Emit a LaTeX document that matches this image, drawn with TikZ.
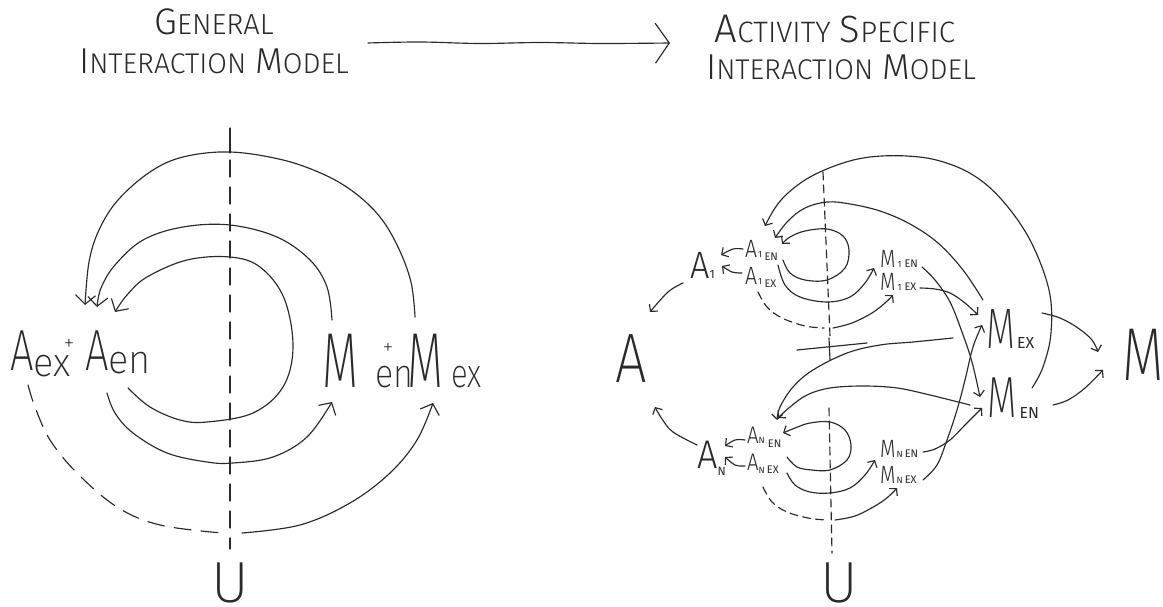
\documentclass[tikz,border=0pt]{standalone}
\usepackage{fontspec}
\usepackage{graphicx}
\newfontfamily\hand{Fira Sans ExtraLight}
\newfontfamily\handL{Fira Sans Light}
\newfontfamily\handB{Fira Sans}
\usetikzlibrary{arrows.meta}
\definecolor{ink}{HTML}{2A2A2A}
% size only / size plus horizontal squeeze for the hand-lettered labels
\newcommand\hsz[2]{{\fontsize{#1}{#1}\selectfont #2}}
\newcommand\nlet[3]{{\fontsize{#1}{#1}\selectfont\scalebox{#2}[1]{#3}}}
\newcommand\tsub[2]{{\handB\fontsize{#1}{#1}\selectfont #2}}
\tikzset{
  pen/.style={draw=ink, line width=1.15pt, line cap=round, line join=round},
  bigtip/.style={-{Straight Barb[length=9pt,width=20pt]}},
  smtip/.style={-{Straight Barb[length=5pt,width=11pt]}},
  lbl/.style={inner sep=0pt, anchor=base west, text=ink, font=\hand},
  slbl/.style={lbl, font=\handL},
  ttl/.style={inner sep=0pt, anchor=base, text=ink, font=\handL},
  longdash/.style={dash pattern=on 17pt off 10pt},
  shortdash/.style={dash pattern=on 8pt off 5pt},
  sm/.style={smooth, tension=0.6},
}
\begin{document}
\begin{tikzpicture}[x=1pt,y=1pt]
\fill[white] (0,0) rectangle (1163,-607);
\useasboundingbox (0,0) rectangle (1163,-607);

% ---------- titles ----------
\node[ttl] (gen) at (214,-35) {\hsz{37}{G}\hsz{29}{ENERAL}};
\node[ttl] (interL) at (214,-74) {\hsz{36}{I}\hsz{28.5}{NTERACTION}\hspace{9pt}\hsz{36}{M}\hsz{28.5}{ODEL}};
\node[ttl] (activity) at (835,-43) {\hsz{40}{A}\hsz{29.5}{CTIVITY}\hspace{9pt}\hsz{38}{S}\hsz{29.5}{PECIFIC}};
\node[ttl] (interR) at (841,-80) {\hsz{36}{I}\hsz{28.5}{NTERACTION}\hspace{9pt}\hsz{36}{M}\hsz{28.5}{ODEL}};
\coordinate (arrS) at (368,-43);
\coordinate (arrE) at (670,-43);
\draw[pen, -{Straight Barb[length=14pt,width=40pt]}] plot[sm] coordinates {(arrS) (420,-42) (480,-43.5) (540,-42.5) (600,-43.5) (arrE)};

% ---------- general model ----------
\draw[pen] (230,-128) -- (230,-153);
\draw[pen, longdash] (230,-160) -- (230,-549);
\node[lbl, anchor=base] (uL) at (230,-602) {\hsz{58}{U}};

\node[lbl] (aex) at (10,-370) {\nlet{58}{0.72}{A}\raisebox{-6pt}{\nlet{40}{0.95}{ex}}};
\node[lbl, anchor=center] (plusA) at (69,-345) {\hsz{22}{+}};
\node[lbl] (aen) at (85,-370) {\nlet{58}{0.72}{A}\raisebox{-3pt}{\nlet{40}{0.95}{en}}};
\node[lbl] (men) at (322,-387) {\nlet{78}{0.6}{M}\hspace{17pt}\nlet{40}{0.85}{en}};
\node[lbl, anchor=center] (plusM) at (388,-349) {\hsz{22}{+}};
\node[lbl] (mex) at (407,-387) {\nlet{78}{0.6}{M}\hspace{8pt}\nlet{40}{0.78}{ex}};

\coordinate (mexTop) at (415,-317);
\coordinate (menTop) at (332,-320);
\coordinate (aexHead) at (85,-305);
\coordinate (aenHead) at (97,-307);
\coordinate (aenLoopHead) at (115,-312);
\coordinate (aenLow) at (128,-388);
\coordinate (aenLow2) at (107,-393);
\coordinate (menLow) at (332,-402);
\coordinate (aexLow) at (28,-385);
\coordinate (mexLow) at (433,-403);

\draw[pen,bigtip] plot[sm] coordinates {(mexTop) (411,-282) (398,-247) (380,-217) (355,-193) (325,-175) (283,-160) (230,-152) (183,-157) (150,-172) (118,-200) (99,-230) (89,-262) (aexHead)};
\draw[pen,bigtip] plot[sm] coordinates {(menTop) (327,-287) (310,-260) (277,-237) (230,-225) (183,-227) (143,-240) (115,-265) (101,-288) (aenHead)};
\draw[pen,bigtip] plot[sm] coordinates {(aenLow) (150,-407) (180,-420) (207,-422) (253,-413) (283,-387) (293,-347) (284,-298) (260,-267) (230,-257) (187,-260) (147,-277) (127,-295) (aenLoopHead)};
\draw[pen,bigtip] plot[sm] coordinates {(aenLow2) (115,-413) (133,-433) (167,-453) (207,-462) (233,-463) (273,-457) (307,-437) (menLow)};
\draw[pen,longdash] plot[sm] coordinates {(aexLow) (35,-407) (50,-440) (77,-473) (117,-507) (160,-525) (222,-533)};
\draw[pen,bigtip] plot[sm] coordinates {(242,-533) (300,-525) (350,-503) (390,-473) (417,-440) (mexLow)};

% ---------- activity specific model ----------
\draw[pen, shortdash] (823,-172) -- (830,-336);
\draw[pen] (797,-350) -- (867,-343);
\draw[pen] (829,-338) -- (830,-360);
\draw[pen, shortdash] (829,-408) -- (832,-553);
\node[lbl, anchor=base] (uR) at (839,-602) {\hsz{58}{U}};

\node[lbl] (bigA) at (615,-382) {\nlet{70}{0.8}{A}};
\node[slbl] (aone) at (690,-278) {\nlet{38}{0.9}{A}\tsub{12}{1}};
\node[slbl] (aoneEn) at (745,-257) {\nlet{25}{0.85}{A}\hspace{1pt}\tsub{9}{1}\hspace{2.5pt}\raisebox{-3pt}{\tsub{11}{EN}}};
\node[slbl] (aoneEx) at (745,-284) {\nlet{25}{0.85}{A}\hspace{1pt}\tsub{9}{1}\hspace{2.5pt}\raisebox{-3pt}{\tsub{11}{EX}}};
\node[slbl] (moneEn) at (880,-267) {\nlet{25}{0.8}{M}\hspace{2pt}\tsub{9}{1}\hspace{3pt}\tsub{11}{EN}};
\node[slbl] (moneEx) at (880,-290) {\nlet{25}{0.8}{M}\hspace{2pt}\tsub{9}{1}\hspace{3pt}\tsub{11}{EX}};
\node[lbl] (mEx) at (986,-348) {\nlet{57}{0.66}{M}\hspace{2pt}\tsub{16}{EX}};
\node[lbl] (mEn) at (987,-417) {\nlet{58}{0.66}{M}\hspace{3pt}\raisebox{-1pt}{\tsub{16}{EN}}};
\node[lbl] (bigM) at (1122,-380) {\nlet{75}{0.72}{M}};
\node[slbl] (aN) at (697,-468) {\nlet{40}{0.9}{A}\raisebox{-7pt}{\tsub{12}{N}}};
\node[slbl] (aNen) at (747,-443) {\nlet{24}{0.85}{A}\tsub{9}{N}\hspace{3pt}\raisebox{-4pt}{\tsub{11}{EN}}};
\node[slbl] (aNex) at (747,-470) {\nlet{24}{0.85}{A}\raisebox{-3pt}{\tsub{9}{N}\hspace{2pt}\tsub{11}{EX}}};
\node[slbl] (mNen) at (880,-457) {\nlet{25}{0.8}{M}\hspace{1pt}\tsub{9}{N}\hspace{2pt}\tsub{11}{EN}};
\node[slbl] (mNex) at (880,-483) {\nlet{25}{0.8}{M}\hspace{1pt}\tsub{9}{N}\hspace{2pt}\tsub{11}{EX}};

% feeds into A
\draw[pen,smtip] plot[sm] coordinates {(683,-283) (668,-292) (650,-312)};
\draw[pen,smtip] plot[sm] coordinates {(697,-445) (673,-432) (662,-419) (655,-407)};
% sub-labels into A_1 and A_N
\draw[pen,smtip] plot[sm] coordinates {(743,-249) (733,-249) (721,-255)};
\draw[pen,smtip] plot[sm] coordinates {(742,-273) (732,-272) (722,-266)};
\draw[pen,smtip] plot[sm] coordinates {(745,-440) (735,-440) (725,-446)};
\draw[pen,smtip] plot[sm] coordinates {(745,-466) (735,-465) (725,-457)};

% upper cluster loops
\draw[pen,smtip] plot[sm] coordinates {(783,-260) (790,-273) (805,-280) (827,-280) (845,-268) (849,-250) (843,-236) (827,-229) (805,-231) (790,-237) (782,-244)};
\draw[pen,smtip] plot[sm] coordinates {(778,-265) (785,-285) (800,-297) (827,-302) (850,-297) (865,-283) (874,-268)};
\draw[pen,shortdash] plot[sm] coordinates {(758,-292) (767,-307) (782,-318) (805,-326) (824,-328)};
\draw[pen,smtip] plot[sm] coordinates {(833,-328) (852,-323) (872,-313) (885,-303) (893,-295)};

% long returns to the upper cluster
\draw[pen,smtip] plot[sm] coordinates {(1032,-388) (1043,-367) (1051,-333) (1049,-290) (1030,-240) (1002,-200) (973,-175) (940,-161) (907,-156) (870,-157) (840,-164) (810,-177) (788,-193) (775,-208) (765,-226)};
\draw[pen,smtip] plot[sm] coordinates {(983,-300) (963,-270) (938,-243) (910,-224) (880,-211) (850,-204) (827,-202) (805,-208) (788,-221) (775,-238)};

% into M_EX / M_EN
\draw[pen,smtip] plot[sm] coordinates {(922,-267) (935,-280) (950,-302) (962,-332) (972,-362) (980,-397)};
\draw[pen,smtip] plot[sm] coordinates {(920,-288) (935,-289) (950,-293) (965,-303) (978,-315)};
\draw[pen,smtip] plot[sm] coordinates {(923,-452) (935,-449) (950,-440) (965,-425) (982,-408)};
\draw[pen,smtip] plot[sm] coordinates {(923,-480) (937,-465) (947,-440) (957,-410) (965,-380) (973,-347) (982,-325)};

% into M
\draw[pen,smtip] plot[sm] coordinates {(1042,-313) (1060,-318) (1078,-328) (1092,-340) (1098,-352)};
\draw[pen,smtip] plot[sm] coordinates {(1053,-405) (1068,-400) (1085,-388) (1103,-370)};

% long returns to the lower cluster
\draw[pen,smtip] plot[sm] coordinates {(953,-338) (913,-342) (880,-345) (847,-353) (813,-370) (793,-387) (780,-407) (777,-420)};
\draw[pen,smtip] plot[sm] coordinates {(970,-405) (930,-395) (897,-388) (863,-386) (830,-388) (807,-395) (790,-407) (778,-418)};

% lower cluster loops
\draw[pen,smtip] plot[sm] coordinates {(787,-457) (797,-467) (812,-470) (830,-470) (847,-460) (851,-445) (845,-430) (830,-422) (810,-423) (795,-428) (783,-433)};
\draw[pen,smtip] plot[sm] coordinates {(787,-473) (795,-485) (810,-492) (830,-493) (850,-488) (865,-475) (875,-460)};
\draw[pen,shortdash] plot[sm] coordinates {(763,-487) (772,-502) (787,-512) (808,-518) (826,-520)};
\draw[pen,smtip] plot[sm] coordinates {(835,-520) (855,-516) (875,-506) (888,-497) (897,-488)};
\end{tikzpicture}
\end{document}
